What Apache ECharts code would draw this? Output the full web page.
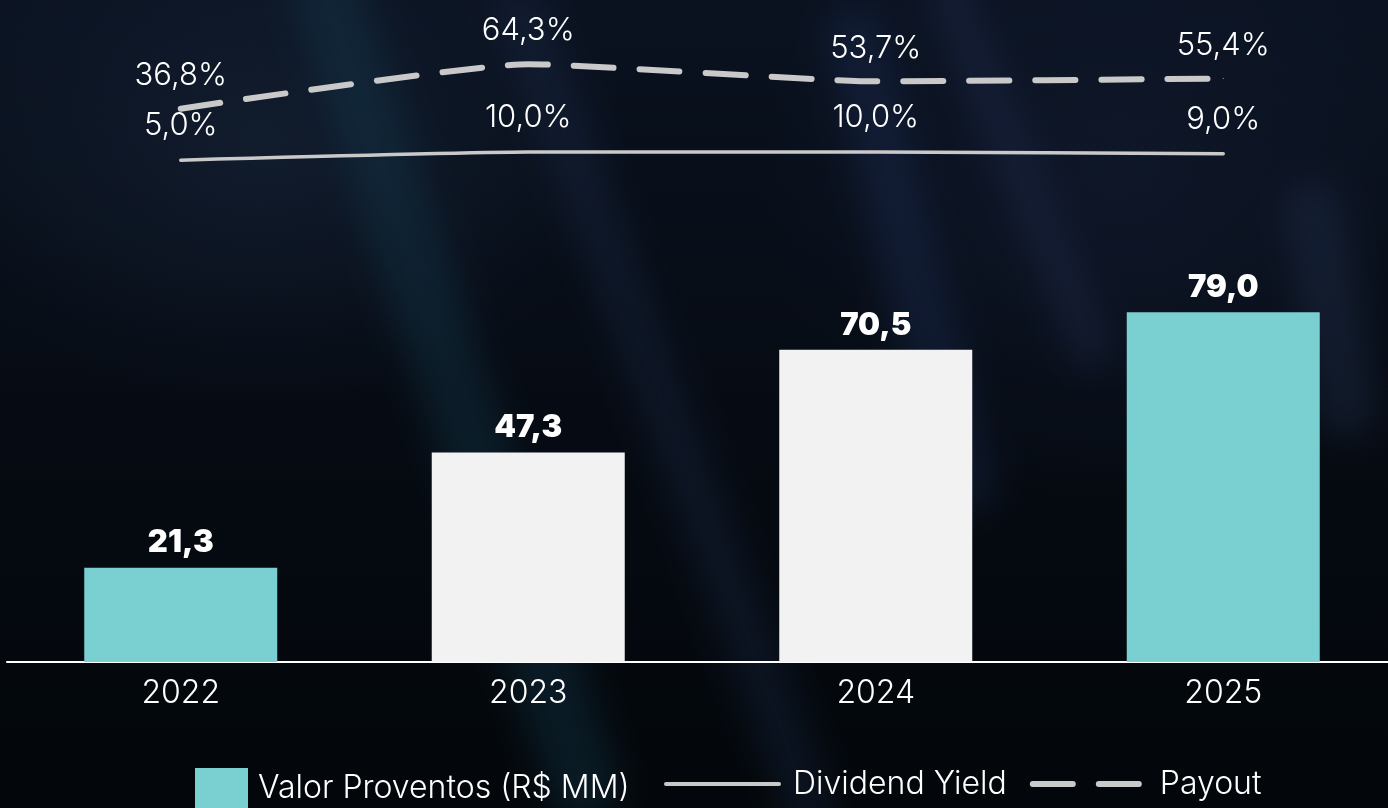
<!DOCTYPE html>
<html>
<head>
<meta charset="utf-8">
<script src="https://cdn.jsdelivr.net/npm/echarts@6/dist/echarts.min.js"></script>
<style>
html,body{margin:0;padding:0;width:1388px;height:808px;overflow:hidden;background:#04080d;}
#bg{position:absolute;left:0;top:0;width:1388px;height:808px;overflow:hidden;
background:
 radial-gradient(ellipse 520px 380px at 260px 140px, rgba(24,38,60,0.55), rgba(0,0,0,0) 70%),
 radial-gradient(ellipse 520px 460px at 1120px 180px, rgba(22,32,58,0.45), rgba(0,0,0,0) 70%),
 linear-gradient(180deg,#0a1220 0%, #060b13 50%, #03070b 100%);}
.streak{position:absolute;filter:blur(16px);border-radius:30px;}
#chart{position:absolute;left:0;top:0;width:1388px;height:840px;}
</style>
</head>
<body>
<div id="bg">
  <div class="streak" style="left:420px;top:-60px;width:70px;height:900px;transform:rotate(-18deg);background:rgba(20,60,80,0.35);"></div>
  <div class="streak" style="left:640px;top:-40px;width:50px;height:900px;transform:rotate(-20deg);background:rgba(30,45,80,0.30);"></div>
  <div class="streak" style="left:880px;top:0px;width:60px;height:520px;transform:rotate(-14deg);background:rgba(30,45,85,0.35);"></div>
  <div class="streak" style="left:1000px;top:-40px;width:40px;height:420px;transform:rotate(-22deg);background:rgba(40,50,90,0.30);"></div>
  <div class="streak" style="left:1300px;top:180px;width:60px;height:260px;transform:rotate(-10deg);background:rgba(40,55,90,0.30);"></div>
</div>
<div id="chart"></div>
<script>
// ---- data ----
const years = ['2022', '2023', '2024', '2025'];
const valorProventos = [21.3, 47.3, 70.5, 79.0];
const dividendYield = [5.0, 10.0, 10.0, 9.0];
const payout = [36.8, 64.3, 53.7, 55.4];

// ---- styles ----
const barColors = ['#7acfd1', '#f2f2f2', '#f2f2f2', '#7acfd1'];
const LINE_COLOR = '#c9c9c9';
const FONT = 'Inter, "Open Sans", sans-serif';

function br(v, suffix) {
  return v.toFixed(1).replace('.', ',') + (suffix || '');
}

const chart = echarts.init(document.getElementById('chart'), null, {renderer: 'canvas'});
chart.setOption({
  backgroundColor: 'transparent',
  animation: false,
  grid: {left: 7, width: 1390, top: 42, bottom: 178, containLabel: false, outerBoundsMode: 'none'},
  legend: [
    {
      left: 195, top: 768, padding: 0, itemWidth: 53, itemHeight: 40,
      data: [{name: 'Valor Proventos (R$ MM)', icon: 'rect', itemStyle: {color: '#7acfd1'}}],
      textStyle: {color: '#ffffff', fontSize: 32, fontFamily: FONT, fontWeight: 300, padding: [7, 0, 0, 5]}
    },
    {
      left: 664, top: 768, padding: 0, itemWidth: 113, itemHeight: 40, itemGap: 23,
      itemStyle: {opacity: 0},
      data: [
        {name: 'Dividend Yield', lineStyle: {color: LINE_COLOR, width: 4, cap: 'round', type: 'solid'}},
        {name: 'Payout', lineStyle: {color: LINE_COLOR, width: 6, cap: 'round', type: [40, 26]}}
      ],
      textStyle: {color: '#ffffff', fontSize: 32, fontFamily: FONT, fontWeight: 300, padding: [7, 0, 0, 9]}
    }
  ],
  xAxis: {
    type: 'category',
    data: years,
    axisLine: {show: true, lineStyle: {color: '#ffffff', width: 2}},
    axisTick: {show: false},
    axisLabel: {color: '#ffffff', fontSize: 32, fontFamily: FONT, fontWeight: 300, margin: 15},
    splitLine: {show: false}
  },
  yAxis: [
    {type: 'value', min: 0, max: 140, show: false, splitLine: {show: false}},
    {type: 'value', min: -305, max: 78, show: false, splitLine: {show: false}}
  ],
  series: [
    {
      name: 'Valor Proventos (R$ MM)',
      type: 'bar',
      barWidth: 193,
      data: valorProventos,
      itemStyle: {color: function (p) { return barColors[p.dataIndex]; }},
      label: {
        show: true, position: 'top', distance: 9,
        color: '#ffffff', fontSize: 31, fontWeight: 900, fontFamily: FONT,
        formatter: function (p) { return br(p.value); }
      }
    },
    {
      name: 'Dividend Yield',
      type: 'line',
      yAxisIndex: 1,
      data: dividendYield,
      smooth: 0.15,
      symbol: 'circle',
      symbolSize: 1,
      itemStyle: {color: LINE_COLOR},
      lineStyle: {color: LINE_COLOR, width: 3.5, cap: 'round'},
      label: {
        show: true, position: 'top', distance: 18,
        color: '#ffffff', fontSize: 31, fontWeight: 300, fontFamily: FONT,
        formatter: function (p) { return br(p.value, '%'); }
      }
    },
    {
      name: 'Payout',
      type: 'line',
      yAxisIndex: 1,
      data: payout,
      smooth: 0.15,
      symbol: 'circle',
      symbolSize: 1,
      itemStyle: {color: LINE_COLOR},
      lineStyle: {color: LINE_COLOR, width: 6, cap: 'round', type: [40, 26]},
      label: {
        show: true, position: 'top', distance: 17,
        color: '#ffffff', fontSize: 31, fontWeight: 300, fontFamily: FONT,
        formatter: function (p) { return br(p.value, '%'); }
      }
    }
  ]
});
</script>
</body>
</html>
